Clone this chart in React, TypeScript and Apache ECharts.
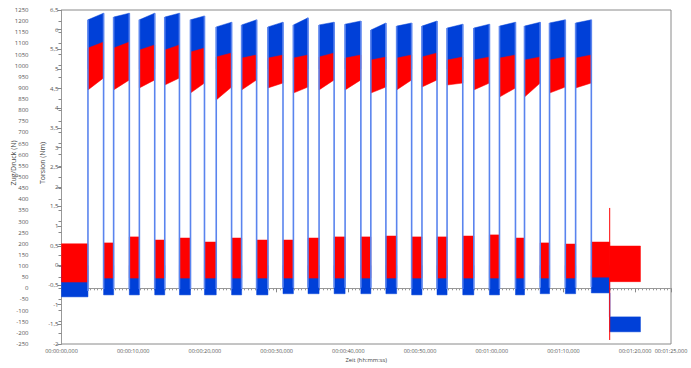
import React, { useEffect, useRef } from "react";
import * as echarts from "echarts";

// ---- data (seconds, N for red, Nm for blue) ----
const blockStart = [3.69, 7.27, 10.86, 14.4, 17.99, 21.58, 25.12, 28.79, 32.34, 35.92, 39.55, 43.14, 46.74, 50.27, 53.77, 57.5, 61.08, 64.57, 68.06, 71.7];
const blockEnd = [5.87, 9.46, 13.0, 16.45, 19.94, 23.72, 27.21, 30.89, 34.38, 38.02, 41.75, 45.24, 48.83, 52.37, 55.96, 59.68, 63.31, 66.76, 70.26, 73.89];

// torsion (blue) high phase top [start, end]
const blueHighTop = [
  [6.25, 6.42], [6.32, 6.42], [6.25, 6.42], [6.32, 6.42], [6.25, 6.35],
  [6.07, 6.19], [6.12, 6.25], [6.07, 6.19], [6.12, 6.3], [6.12, 6.19],
  [6.14, 6.22], [5.99, 6.17], [6.09, 6.17], [6.09, 6.22], [6.04, 6.14],
  [6.04, 6.14], [6.09, 6.19], [6.09, 6.19], [6.17, 6.25], [6.17, 6.25],
];
const blueHighBase = 5.0;

// force (red) high phase top / bottom [start, end]
const redHighTop = [
  [1079, 1106], [1079, 1106], [1070, 1093], [1070, 1093], [1061, 1079],
  [1039, 1057], [1034, 1048], [1034, 1048], [1034, 1048], [1039, 1057],
  [1034, 1048], [1025, 1039], [1034, 1048], [1039, 1057], [1025, 1039],
  [1025, 1039], [1034, 1048], [1025, 1039], [1025, 1039], [1034, 1048],
];
const redHighBottom = [
  [891, 945], [891, 936], [900, 936], [913, 945], [877, 922],
  [846, 904], [891, 936], [900, 922], [877, 904], [891, 936],
  [891, 936], [877, 904], [891, 936], [904, 936], [913, 922],
  [891, 922], [859, 900], [859, 922], [877, 904], [900, 922],
];

// low phases (21 segments: before block 1, between blocks, after block 20)
const lowRedTop = [200, 204, 231, 217, 226, 208, 226, 217, 217, 226, 231, 231, 235, 231, 231, 235, 240, 226, 204, 199, 208];
const lowRedBottom = [28, 46, 46, 46, 46, 46, 46, 46, 46, 46, 46, 46, 46, 46, 46, 46, 46, 46, 46, 46, 50];
const lowBlueTop = 0.0;
const lowBlueBottom = [-0.8, -0.75, -0.75, -0.75, -0.75, -0.75, -0.75, -0.75, -0.72, -0.72, -0.72, -0.72, -0.72, -0.75, -0.75, -0.75, -0.75, -0.75, -0.72, -0.72, -0.7];

// final section after the drop
const dropTime = 76.45;
const endTime = 80.74;
const finalRed = [190, 30];
const finalBlue = [-1.31, -1.69];
const spikeRed = [-232, 361];

const xTicksMax = 85;

const RED = "#ff0000";
const BLUE = "#0040d8";
const BLUE_EDGE = "#5a84ee";

const pad = (n: number, l = 2) => String(n).padStart(l, "0");
const fmtTime = (v: number) => {
  const h = Math.floor(v / 3600);
  const m = Math.floor((v % 3600) / 60);
  const s = Math.floor(v % 60);
  const ms = Math.round((v - Math.floor(v)) * 1000);
  return `${pad(h)}:${pad(m)}:${pad(s)},${pad(ms, 3)}`;
};

function bandRenderer(color: string) {
  return (_params: any, api: any) => {
    const a = api.coord([api.value(0), api.value(2)]);
    const b = api.coord([api.value(1), api.value(3)]);
    const c = api.coord([api.value(1), api.value(5)]);
    const d = api.coord([api.value(0), api.value(4)]);
    return {
      type: "polygon",
      shape: { points: [a, b, c, d] },
      style: { fill: color, stroke: color, lineWidth: 0.5 },
    };
  };
}

function lineRenderer(color: string, width: number) {
  return (_params: any, api: any) => {
    const p = api.coord([api.value(0), api.value(1)]);
    const q = api.coord([api.value(0), api.value(2)]);
    return {
      type: "line",
      shape: { x1: p[0], y1: p[1], x2: q[0], y2: q[1] },
      style: { stroke: color, lineWidth: width },
    };
  };
}

export default function App() {
  const ref = useRef<HTMLDivElement>(null);
  useEffect(() => {
    if (!ref.current) return;
    const chart = echarts.init(ref.current, undefined, { renderer: "svg" });

    // build band tables: [t0, t1, top0, top1, bot0, bot1]
    const lowTimes: number[][] = [];
    lowTimes.push([0, blockStart[0]]);
    for (let i = 1; i < blockStart.length; i++) lowTimes.push([blockEnd[i - 1], blockStart[i]]);
    lowTimes.push([blockEnd[blockEnd.length - 1], dropTime]);

    const redBands: number[][] = [];
    const blueBands: number[][] = [];
    blockStart.forEach((t0, i) => {
      const t1 = blockEnd[i];
      blueBands.push([t0, t1, blueHighTop[i][0], blueHighTop[i][1], blueHighBase, blueHighBase]);
      redBands.push([t0, t1, redHighTop[i][0], redHighTop[i][1], redHighBottom[i][0], redHighBottom[i][1]]);
    });
    lowTimes.forEach(([t0, t1], i) => {
      blueBands.push([t0, t1, lowBlueTop, lowBlueTop, lowBlueBottom[i], lowBlueBottom[i]]);
      redBands.push([t0, t1, lowRedTop[i], lowRedTop[i], lowRedBottom[i], lowRedBottom[i]]);
    });
    blueBands.push([dropTime, endTime, finalBlue[0], finalBlue[0], finalBlue[1], finalBlue[1]]);
    redBands.push([dropTime, endTime, finalRed[0], finalRed[0], finalRed[1], finalRed[1]]);

    const blueEdges: number[][] = [];
    blockStart.forEach((t0, i) => {
      blueEdges.push([t0, lowBlueBottom[i] + 0.15, blueHighTop[i][0]]);
      blueEdges.push([blockEnd[i], lowBlueBottom[i + 1] + 0.15, blueHighTop[i][1]]);
    });
    blueEdges.push([dropTime, lowBlueBottom[lowBlueBottom.length - 1], finalBlue[0]]);

    const redSpikes = [[dropTime, spikeRed[0], spikeRed[1]]];

    const FONT = "Open Sans, sans-serif";
    const labelStyle = { fontSize: 6, color: "#555", fontFamily: FONT };

    chart.setOption({
      animation: false,
      grid: {
        left: 61.5, top: 10, right: 20, bottom: 24,
        containLabel: false,
        outerBoundsMode: "none",
        show: true, borderColor: "#8a8a8a", borderWidth: 1, backgroundColor: "transparent",
      },
      graphic: [
        {
          type: "text",
          x: 13,
          y: 163,
          rotation: Math.PI / 2,
          style: { text: "Zug/Druck (N)", fontSize: 7, fill: "#444", fontFamily: FONT, align: "center", verticalAlign: "middle" },
        },
        {
          type: "text",
          x: 42,
          y: 163,
          rotation: Math.PI / 2,
          style: { text: "Torsion (Nm)", fontSize: 7, fill: "#444", fontFamily: FONT, align: "center", verticalAlign: "middle" },
        },
      ],
      xAxis: {
        type: "value",
        min: 0,
        max: xTicksMax,
        interval: 10,
        name: "Zeit (hh:mm:ss)",
        nameLocation: "middle",
        nameGap: 13,
        nameMoveOverlap: false,
        nameTextStyle: { fontSize: 5.8, color: "#444", fontFamily: FONT },
        axisLine: { show: true, lineStyle: { color: "#999" } },
        axisTick: { show: true, length: 4, lineStyle: { color: "#888" } },
        minorTick: { show: true, splitNumber: 20, length: 2, lineStyle: { color: "#999" } },
        splitLine: { show: false },
        axisLabel: { ...labelStyle, fontSize: 5.5, margin: 4, formatter: (v: number) => fmtTime(v), showMaxLabel: true, hideOverlap: false },
      },
      yAxis: [
        {
          type: "value",
          position: "left",
          offset: 31,
          min: -250,
          max: 1250,
          interval: 50,
          axisLine: { show: false },
          axisTick: { show: true, length: 3, lineStyle: { color: "#888" } },
          splitLine: { show: false },
          axisLabel: { ...labelStyle, margin: 2, formatter: (v: number) => String(v) },
        },
        {
          type: "value",
          position: "left",
          offset: 0,
          min: -2,
          max: 6.5,
          interval: 0.5,
          axisLine: { show: true, lineStyle: { color: "#999" } },
          axisTick: { show: true, length: 4, lineStyle: { color: "#888" } },
          splitLine: { show: false },
          axisLabel: {
            ...labelStyle,
            margin: 3,
            formatter: (v: number) => String(v).replace(".", ","),
          },
        },
      ],
      series: [
        {
          type: "custom",
          name: "Torsion",
          yAxisIndex: 1,
          renderItem: bandRenderer(BLUE),
          data: blueBands,
          clip: true,
          z: 2,
        },
        {
          type: "custom",
          name: "Zug/Druck",
          yAxisIndex: 0,
          renderItem: bandRenderer(RED),
          data: redBands,
          clip: true,
          z: 3,
        },
        {
          type: "custom",
          name: "Torsion edges",
          yAxisIndex: 1,
          renderItem: lineRenderer(BLUE_EDGE, 1.6),
          data: blueEdges,
          clip: true,
          z: 4,
        },
        {
          type: "custom",
          name: "Zug/Druck spike",
          yAxisIndex: 0,
          renderItem: lineRenderer(RED, 1),
          data: redSpikes,
          clip: true,
          z: 5,
        },
      ],
    });
    return () => chart.dispose();
  }, []);

  return (
    <div
      ref={ref}
      style={{ position: "fixed", left: 0, top: 0, width: 691, height: 368, background: "#fff" }}
    />
  );
}
